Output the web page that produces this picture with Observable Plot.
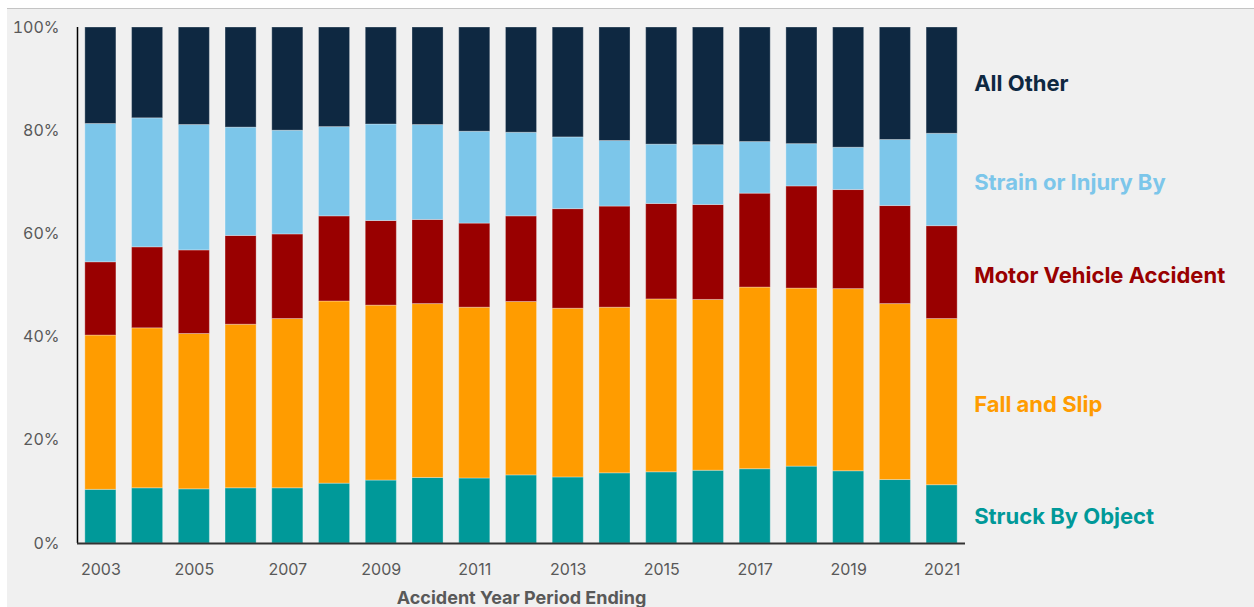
<!DOCTYPE html>
<html>
<head>
<meta charset="utf-8">
<script src="https://cdn.jsdelivr.net/npm/d3@7"></script>
<script src="https://cdn.jsdelivr.net/npm/@observablehq/plot@0.6"></script>
<style>
  html, body { margin: 0; padding: 0; background: #ffffff; overflow: hidden; }
  #wrap { position: absolute; left: 7px; top: 8px; width: 1247px; height: 599px;
          border-top: 1px solid #c4c4c4; background: #f0f0f0; }
  #chart svg { display: block; }
</style>
</head>
<body>
<div id="wrap"><div id="chart"></div></div>
<script>
const years = [2003,2004,2005,2006,2007,2008,2009,2010,2011,2012,2013,2014,2015,2016,2017,2018,2019,2020,2021];
const categories = ["Struck By Object","Fall and Slip","Motor Vehicle Accident","Strain or Injury By","All Other"];
const colors = ["#009999","#ff9c00","#990000","#7cc6ea","#0e2841"];
// shares in percent
const struck = [10.4,10.7,10.5,10.7,10.7,11.6,12.2,12.7,12.6,13.2,12.8,13.6,13.8,14.1,14.4,14.9,14.0,12.3,11.3];
const fall   = [29.9,31.0,30.1,31.7,32.8,35.3,33.9,33.7,33.1,33.6,32.7,32.1,33.5,33.1,35.2,34.5,35.3,34.1,32.2];
const mva    = [14.2,15.7,16.2,17.2,16.4,16.5,16.4,16.3,16.3,16.6,19.3,19.6,18.5,18.4,18.2,19.8,19.2,19.0,18.0];
const strain = [26.8,25.0,24.3,21.0,20.1,17.3,18.7,18.4,17.8,16.2,13.9,12.7,11.5,11.6,10.0,8.2,8.2,12.8,17.9];
const other  = [18.7,17.6,18.9,19.4,20.0,19.3,18.8,18.9,20.2,20.4,21.3,22.0,22.7,22.8,22.2,22.6,23.3,21.8,20.6];
const yTicks = [0,20,40,60,80,100];
const xTicks = [2003,2005,2007,2009,2011,2013,2015,2017,2019,2021];
const xLabel = "Accident Year Period Ending";

const series = [struck, fall, mva, strain, other];
const data = [];
years.forEach((yr, i) => {
  categories.forEach((c, j) => data.push({year: yr, category: c, value: series[j][i]}));
});
const last = data.filter(d => d.year === years[years.length - 1]);

const chart = Plot.plot({
  width: 1247,
  height: 598,
  marginLeft: 70,
  marginRight: 289,
  marginTop: 18,
  marginBottom: 64,
  style: {background: "transparent", fontFamily: "Inter, 'Noto Sans', sans-serif", fontSize: "16px", color: "#595959"},
  x: {type: "band", domain: years, paddingInner: 0.335, paddingOuter: 0.1675, round: false},
  y: {domain: [0, 100]},
  color: {domain: categories, range: colors},
  marks: [
    Plot.barY(data, Plot.stackY({
      x: "year", y: "value", z: "category", order: categories,
      fill: "category", stroke: "#ffffff", strokeOpacity: 0.3, strokeWidth: 1
    })),
    Plot.axisX({ticks: xTicks, tickSize: 0, tickPadding: 20, tickFormat: d => String(d), label: null,
      fill: "#595959", fontSize: 16}),
    Plot.axisY({ticks: yTicks, tickSize: 0, tickPadding: 18, tickFormat: d => d + "%", label: null,
      fill: "#595959", fontSize: 16}),
    Plot.text([xLabel], {frameAnchor: "bottom", dy: 60, text: d => d, fill: "#595959",
      fontSize: 18, fontWeight: 700}),
    Plot.ruleX([years[0]], {y1: 0, y2: 100, dx: -23.37, stroke: "#000", strokeWidth: 1.5}),
    Plot.ruleY([0], {stroke: "#333", strokeWidth: 2}),
    Plot.text(last, Plot.stackY({
      x: "year", y: "value", z: "category", order: categories,
      text: "category", fill: "category", textAnchor: "start", dx: 32, dy: 3,
      fontSize: 22, fontWeight: 700
    }))
  ]
});
document.getElementById("chart").appendChild(chart);
</script>
</body>
</html>
